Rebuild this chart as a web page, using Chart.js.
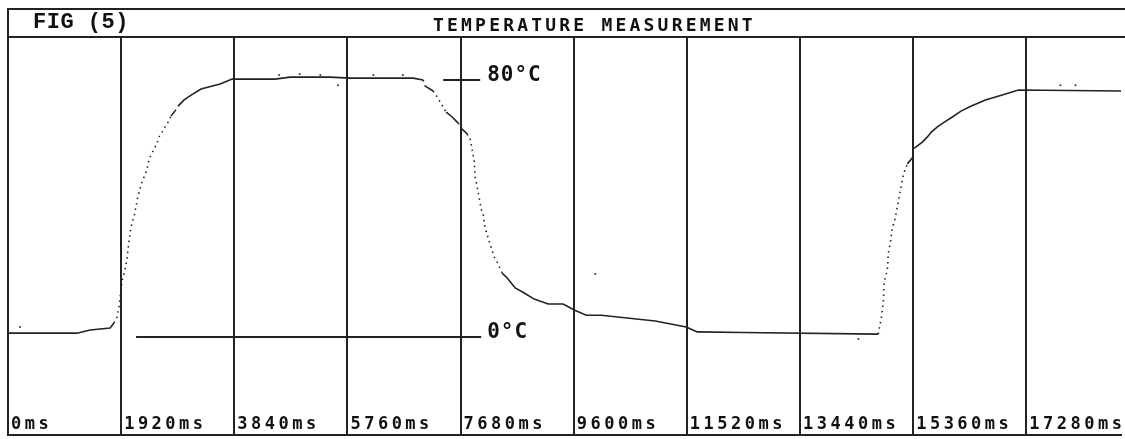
<!DOCTYPE html>
<html>
<head>
<meta charset="utf-8">
<script src="https://cdn.jsdelivr.net/npm/chart.js@4/dist/chart.umd.min.js"></script>
<style>
  html, body { margin: 0; padding: 0; background: #fff; }
  #wrap { position: relative; width: 1125px; height: 439px; overflow: hidden; }
  #chart { position: absolute; left: 0; top: 0; }
  #head { position: absolute; left: 7px; top: 8px; width: 1130px; height: 26px;
          border-top: 2px solid #222; border-left: 2px solid #222; border-bottom: 2px solid #222; }
  #fig { position: absolute; left: 33px; top: 12px; font: bold 22px/22px "Liberation Mono"; color: #111; letter-spacing: 0.5px; }
  #title { position: absolute; left: 433px; top: 16px; font: bold 18px/18px "DejaVu Sans Mono"; color: #111; letter-spacing: 3.2px; }
</style>
</head>
<body>
<div id="wrap">
  <canvas id="chart" width="1125" height="439"></canvas>
  <div id="head"></div>
  <div id="fig">FIG (5)</div>
  <div id="title">TEMPERATURE MEASUREMENT</div>
</div>
<script>
// time axis in ms, temperature in degC
const tickMs = [0, 1920, 3840, 5760, 7680, 9600, 11520, 13440, 15360, 17280];

const curveMs = [
    0, 1171, 1392, 1732, 1799, 1850, 1884, 1935, 1986, 2020, 2037, 2071, 2105, 2139, 2173, 2207,
    2258, 2292, 2326, 2360, 2394, 2445, 2495, 2529, 2563, 2614, 2665, 2716, 2767, 2835, 2886, 2988,
    3107, 3276, 3599, 3803, 4533, 4787, 5466, 5806, 6315, 6875, 7045, 7079, 7215, 7283, 7334, 7385,
    7435, 7537, 7639, 7707, 7792, 7843, 7877, 7911, 7928, 7962, 7996, 8030, 8064, 8081, 8131, 8165,
    8216, 8250, 8301, 8386, 8471, 8607, 8760, 8929, 9167, 9421, 9608, 9812, 10067, 10983, 11510,
    11697, 12477, 14769, 14786, 14820, 14854, 14871, 14922, 14939, 14973, 15007, 15041, 15075, 15126,
    15160, 15194, 15228, 15262, 15330, 15380, 15516, 15601, 15669, 15771, 15889, 16025, 16178, 16348,
    16586, 16857, 17146, 18962
];
const curveTemp = [
    1.2, 1.2, 2.2, 2.8, 4.4, 6.2, 9.3, 17.4, 20.9, 24.3, 27.4, 32.4, 35.8, 37.4, 40.8, 43.9,
    47.3, 49.2, 50.4, 52.3, 55.4, 57.3, 59.1, 60.4, 62.3, 63.8, 65.4, 66.9, 68.8, 70.4, 71.9, 73.8,
    75.3, 77.2, 78.8, 80.3, 80.3, 80.9, 80.9, 80.6, 80.6, 80.6, 80.0, 78.1, 76.6, 74.7, 73.2, 71.6,
    70.0, 68.5, 66.6, 64.7, 63.2, 61.6, 58.2, 54.8, 49.8, 46.7, 43.3, 39.8, 38.3, 35.2, 31.8, 29.9,
    26.8, 24.9, 23.3, 19.9, 18.4, 15.3, 13.7, 11.8, 10.3, 10.3, 8.4, 6.8, 6.8, 5.0, 3.1,
    1.6, 1.4, 0.9, 2.8, 5.9, 10.9, 17.4, 20.9, 26.1, 29.3, 34.2, 35.8, 38.9, 43.9,
    47.3, 50.7, 52.3, 53.9, 55.4, 58.8, 60.7, 62.3, 63.8, 65.4, 66.9, 68.5, 70.4, 71.9,
    73.8, 75.3, 76.9, 76.6
];

// stray plotter dots
const noiseMs = [203, 4600, 4950, 5300, 5600, 6200, 6700, 9965, 14430, 17859, 18114];
const noiseTemp = [3.1, 81.6, 81.9, 81.6, 78.4, 81.6, 81.6, 19.6, -0.6, 78.4, 78.4];

// reference marks for 0 and 80 degC
const zeroLineMs = [2173, 8030];
const zeroLineTemp = [0, 0];
const markMs = [7385, 8013];
const markTemp = [80, 80];
const degLabels = ["0°C", "80°C"];
const degTemps = [0, 80];
const degLabelMs = 8131;

const toPoints = (xs, ys) => xs.map((x, i) => ({x: x, y: ys[i]}));

const steep = ctx => Math.abs(ctx.p1.y - ctx.p0.y) > 1.5 * Math.abs(ctx.p1.x - ctx.p0.x);

const tickSpacing = {
    id: "tickSpacing",
    beforeDraw(chart) { chart.ctx.letterSpacing = "3.5px"; },
    afterDraw(chart) { chart.ctx.letterSpacing = "0px"; }
};

const degreeLabels = {
    id: "degreeLabels",
    afterDatasetsDraw(chart) {
        const {ctx, scales: {x, y}} = chart;
        ctx.save();
        ctx.font = 'bold 21px "DejaVu Sans Mono"';
        ctx.letterSpacing = "1px";
        ctx.fillStyle = "#111";
        ctx.textBaseline = "alphabetic";
        ctx.textAlign = "left";
        degTemps.forEach((t, i) => {
            ctx.fillText(degLabels[i], x.getPixelForValue(degLabelMs), y.getPixelForValue(t) + 1);
        });
        ctx.restore();
    }
};

new Chart(document.getElementById("chart").getContext("2d"), {
    type: "scatter",
    data: {
        datasets: [
            {
                data: toPoints(curveMs, curveTemp),
                showLine: true,
                borderColor: "#222",
                borderWidth: 1.6,
                pointRadius: 0,
                segment: {
                    borderDash: ctx => steep(ctx) ? [1.5, 4] : undefined
                }
            },
            {
                data: toPoints(noiseMs, noiseTemp),
                pointRadius: 1,
                pointBackgroundColor: "#333",
                pointBorderWidth: 0
            },
            {
                data: toPoints(zeroLineMs, zeroLineTemp),
                showLine: true,
                borderColor: "#222",
                borderWidth: 2,
                pointRadius: 0
            },
            {
                data: toPoints(markMs, markTemp),
                showLine: true,
                borderColor: "#222",
                borderWidth: 2,
                pointRadius: 0
            }
        ]
    },
    options: {
        responsive: false,
        animation: false,
        layout: { padding: { left: 8, top: 37, right: 0, bottom: 3 } },
        plugins: { legend: { display: false }, tooltip: { enabled: false } },
        scales: {
            x: {
                type: "linear",
                min: 0,
                max: 18887,
                afterBuildTicks: s => { s.ticks = tickMs.map(v => ({value: v})); },
                grid: { color: "#222", lineWidth: 2, drawTicks: false },
                border: { display: true, color: "#222", width: 2 },
                ticks: {
                    mirror: true,
                    align: "start",
                    padding: 0,
                    labelOffset: 3,
                    autoSkip: false,
                    maxRotation: 0,
                    includeBounds: false,
                    color: "#111",
                    font: { family: "DejaVu Sans Mono", size: 17, weight: "bold" },
                    callback: v => v + "ms"
                }
            },
            y: { min: -30.5, max: 93.4, display: false }
        }
    },
    plugins: [tickSpacing, degreeLabels]
});
</script>
</body>
</html>
